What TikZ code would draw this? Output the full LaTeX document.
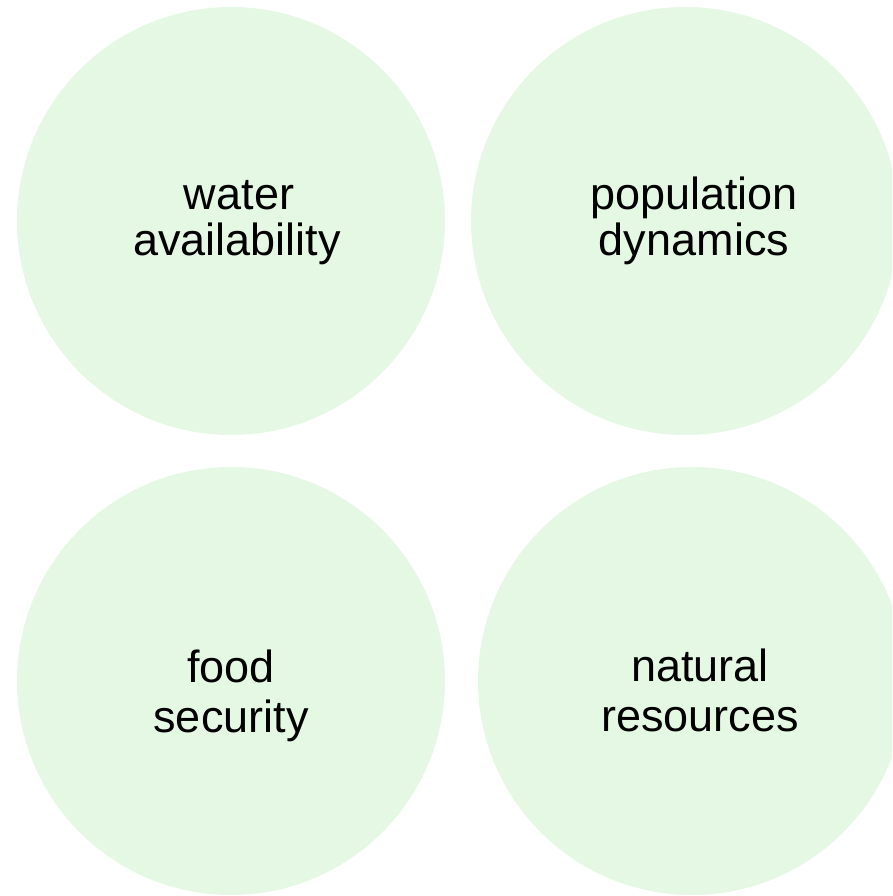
\documentclass[tikz,border=0pt]{standalone}
\usepackage{fontspec}
\setmainfont{Liberation Sans}
\definecolor{bubble}{RGB}{228,248,228}
\begin{document}
\begin{tikzpicture}[x=1pt,y=1pt,
  bubble/.style={circle,fill=bubble,draw=none,inner sep=0pt,minimum size=428pt},
  lbl/.style={anchor=base,inner sep=0pt,font=\fontsize{45}{50}\selectfont}]
\useasboundingbox (0,0) rectangle (892,896);
\begin{scope}
\clip (0,0) rectangle (892,896);
\node[bubble] (water) at (231,675) {};
\node[bubble] (pop) at (685,675) {};
\node[bubble] (food) at (231,215) {};
\node[bubble] (nat) at (692,215) {};
\end{scope}
\node[lbl] (w1) at (239,686) {water};
\node[lbl] (w2) at (237,640) {availability};
\node[lbl] (p1) at (694,686) {population};
\node[lbl] (p2) at (694,640) {dynamics};
\node[lbl] (f1) at (231,213) {food};
\node[lbl] (f2) at (231,163) {security};
\node[lbl] (n1) at (700,214) {natural};
\node[lbl] (n2) at (700,164) {resources};
\end{tikzpicture}
\end{document}
